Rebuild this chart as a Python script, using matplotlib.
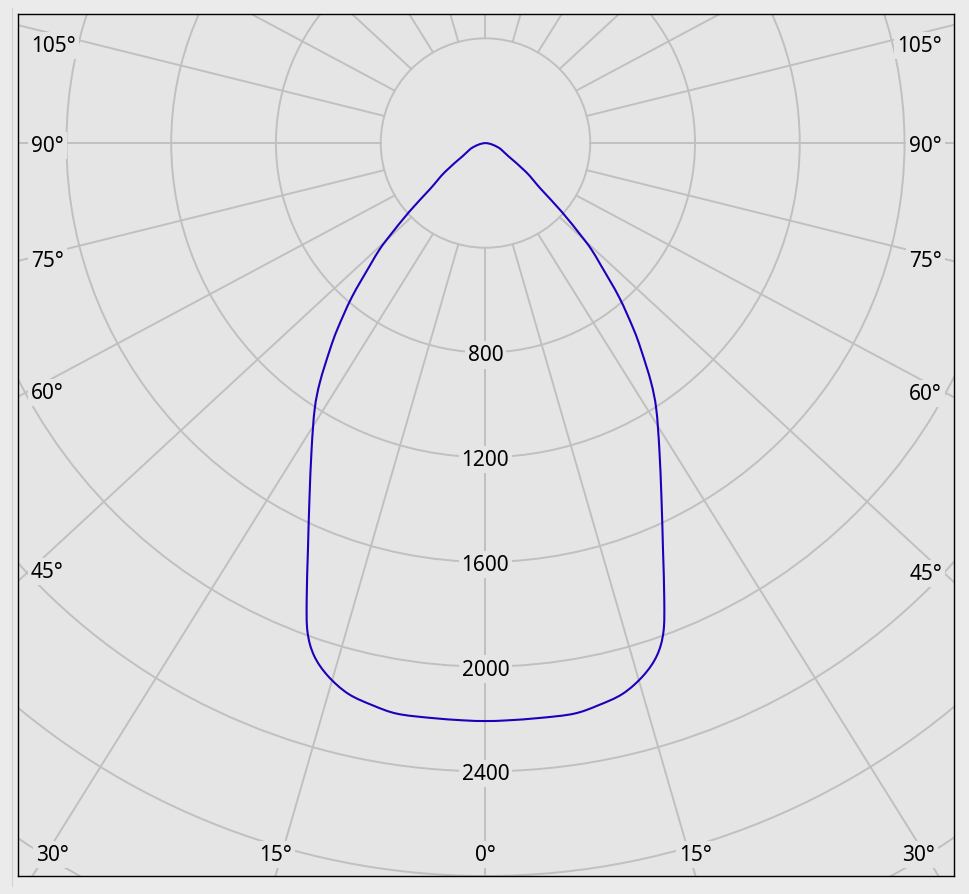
import numpy as np
import matplotlib
matplotlib.use("Agg")
import matplotlib.pyplot as plt
from matplotlib.patches import Circle, PathPatch
from matplotlib.path import Path
from matplotlib.lines import Line2D

# luminous intensity curve (cd) against gamma angle (deg), symmetric
gamma = [0, 2.2, 5.5, 8.8, 11.3, 14.0, 16.5, 18.5, 20.0, 21.4, 23.6,
         26.3, 29.6, 32.7, 34.7, 37.0, 38.5, 40.9, 43.3, 44.9, 45.9, 48.0,
         50.3, 54.5, 60.2, 66.0, 71.0, 79.7, 90]
intensity = [2208, 2207, 2206, 2206, 2191, 2168, 2122, 2064, 1987, 1871,
             1693, 1517, 1344, 1207, 1110, 986, 908, 780, 644, 571, 508, 390,
             275, 190, 100, 70, 52, 21, 0]

ring_values = [400, 800, 1200, 1600, 2000, 2400, 2800, 3200, 3600]
ring_labels = [800, 1200, 1600, 2000, 2400]
spoke_angles = [0, 15, 30, 45, 60, 75, 90, 105, 120, 135, 150, 165, 180]
angle_labels = [0, 15, 30, 45, 60, 75, 90, 105]

BG = "#e5e5e5"
GRID = "#c0c0c0"
CURVE = "#1c00bb"
XLIM = (-1785, 1789)
YLIM = (-2800, 493)
SPOKE_STRETCH = 1.08   # spokes in the original fan out a little wider than true angle
PX = (XLIM[1] - XLIM[0]) / 936.0   # cd per pixel

plt.rcParams["font.family"] = ["Noto Sans", "DejaVu Sans"]

fig = plt.figure(figsize=(9.69, 8.95), dpi=100, facecolor="#ebebeb")
ax = fig.add_axes([18 / 969, 18 / 895, 936 / 969, 862 / 895])
ax.set_facecolor(BG)
ax.set_xlim(*XLIM)
ax.set_ylim(*YLIM)
ax.set_xticks([])
ax.set_yticks([])
for sp in ax.spines.values():
    sp.set_color("black")
    sp.set_linewidth(1.0)

# rings
for r in ring_values:
    ax.add_patch(Circle((0, 0), r, fill=False, ec=GRID, lw=1.4, zorder=1))


def spoke(a, side):
    t = np.radians(a)
    p1 = np.array([side * 400 * np.sin(t), -400 * np.cos(t)])
    d = np.array([side * SPOKE_STRETCH * np.sin(t), -np.cos(t)])
    return p1, d / np.hypot(*d)


# spokes from the inner ring outward
for a in spoke_angles:
    sides = [1] if a in (0, 180) else [-1, 1]
    for side in sides:
        p1, d = spoke(a, side)
        p2 = p1 + 9000 * d
        ax.plot([p1[0], p2[0]], [p1[1], p2[1]], color=GRID, lw=1.4, zorder=1)

# curve, drawn as a smooth bezier path through the read points
g = np.radians(np.array(gamma))
I = np.array(intensity, dtype=float)
xs = np.concatenate([-(I * np.sin(g))[::-1], (I * np.sin(g))[1:]])
ys = np.concatenate([-(I * np.cos(g))[::-1], -(I * np.cos(g))[1:]])
pts = np.column_stack([xs, ys])
ext = np.vstack([pts[0], pts, pts[-1]])
verts = [pts[0]]
codes = [Path.MOVETO]
for i in range(len(pts) - 1):
    p0, p1_, p2_, p3 = ext[i], ext[i + 1], ext[i + 2], ext[i + 3]
    verts += [p1_ + (p2_ - p0) / 6, p2_ - (p3 - p1_) / 6, p2_]
    codes += [Path.CURVE4] * 3
ax.add_patch(PathPatch(Path(verts, codes), fill=False, ec=CURVE, lw=1.5,
                       zorder=3))

box = dict(boxstyle="square,pad=0.15", fc=BG, ec="none")
fs = 15

# ring labels
for v in ring_labels:
    ax.text(0, -v, str(v), ha="center", va="center_baseline", fontsize=fs,
            bbox=box, zorder=4)

# angle labels where spokes meet the frame
x_in_left = XLIM[0] + 13 * PX
x_in_right = XLIM[1] - 12 * PX
y_bottom = YLIM[0] + 24 * PX
y_top = YLIM[1] - 29 * PX
x_clamp = 1655
for a in angle_labels:
    sides = [1] if a == 0 else [-1, 1]
    for side in sides:
        p1, d = spoke(a, side)
        hit_bottom = None
        if d[1] < 0:
            t = (YLIM[0] - p1[1]) / d[1]
            xb = p1[0] + t * d[0]
            if XLIM[0] <= xb <= XLIM[1]:
                hit_bottom = xb
        if hit_bottom is not None:
            xl = min(max(hit_bottom, -x_clamp), x_clamp)
            ax.text(xl, y_bottom, f"{a}°", ha="center", va="center_baseline",
                    fontsize=fs, bbox=box, zorder=4)
        else:
            xe = x_in_left if side < 0 else x_in_right
            t = (xe - p1[0]) / d[0]
            yl = min(p1[1] + t * d[1], y_top)
            ax.text(xe, yl, f"{a}°", ha="left" if side < 0 else "right",
                    va="center_baseline", fontsize=fs, bbox=box, zorder=4)

# thin panel edge left of the frame
fig.add_artist(Line2D([12 / 969, 12 / 969], [8 / 895, 886 / 895],
                      color="#d2d2d2", lw=0.8))

fig.savefig("out.png", dpi=100, facecolor=fig.get_facecolor())
